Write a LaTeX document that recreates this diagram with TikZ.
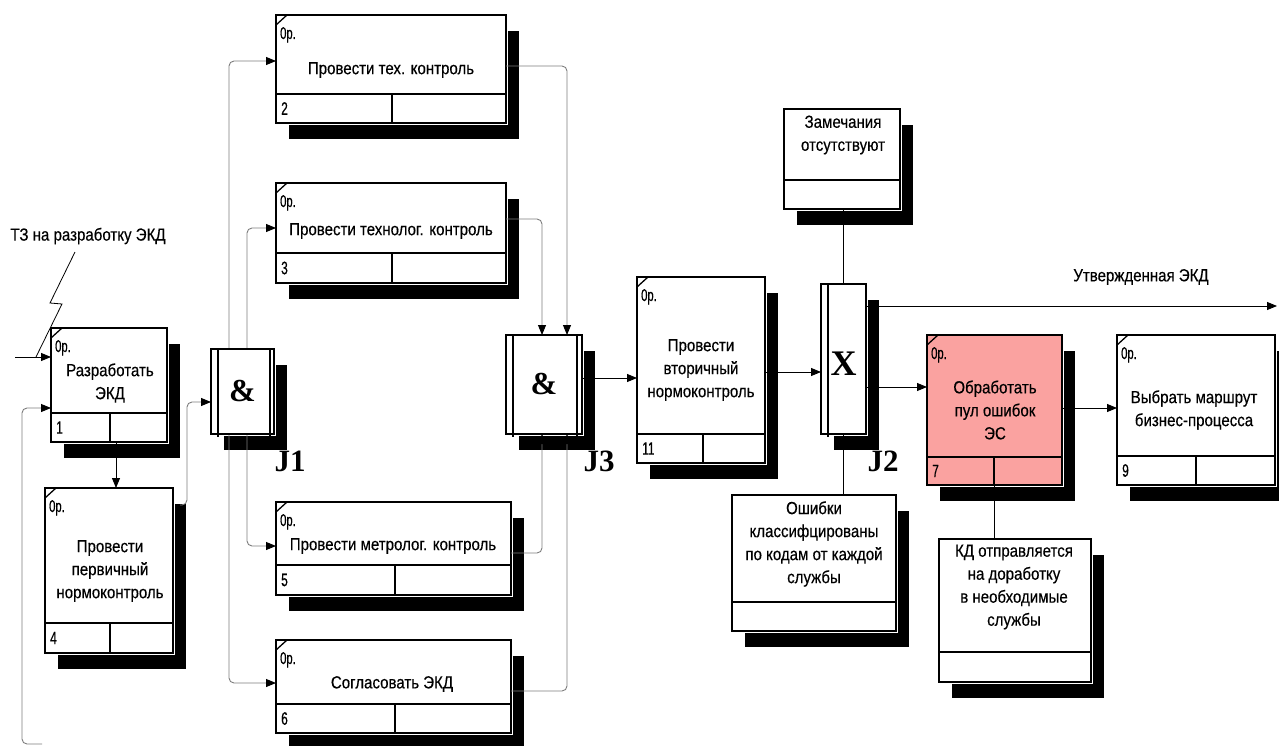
\documentclass[tikz,border=0pt]{standalone}
\usepackage{fontspec}
\setmainfont{Liberation Sans}[FakeStretch=0.86,FakeBold=0.35]
\newfontfamily\jfont{Liberation Serif}
\newfontfamily\zfont{Liberation Sans}[FakeStretch=0.66,FakeBold=0.5]
\usetikzlibrary{arrows.meta}
\definecolor{pinkf}{RGB}{250,162,160}
\definecolor{lgray}{RGB}{125,125,125}
\tikzset{
  boxst/.style={draw=black, line width=2pt, inner sep=0, outer sep=0},
  divst/.style={line width=2pt},
  splitst/.style={line width=1.6pt},
  tickst/.style={line width=1.3pt},
  zerost/.style={font=\zfont\fontsize{17}{17}\selectfont, anchor=base west, inner sep=0},
  numst/.style={font=\zfont\fontsize{18}{18}\selectfont, anchor=west, inner sep=0},
  ttl/.style={font=\fontsize{17.5}{23}\selectfont, align=center, inner sep=0},
  jsym/.style={font=\jfont\bfseries\fontsize{32}{32}\selectfont, inner sep=0},
  jlab/.style={font=\jfont\bfseries\fontsize{31}{31}\selectfont, inner sep=0},
  conn/.style={line width=0.9pt, rounded corners=5pt, -{Triangle[length=10pt,width=8pt,color=black]}},
  connG/.style={conn, draw=lgray},
  plain/.style={line width=0.9pt, draw=black},
}
% unit of work box: name, x1, y1, x2, y2, ydiv, xsplit, number, fill
\newcommand\uowbox[9]{%
  \fill[black] (#2+13,#3+16) rectangle (#4+13,#5+16);
  \fill[white] (#2-2,#3-2) rectangle (#4+2,#5+2);
  \pgfmathsetmacro\uoww{#4-#2}\pgfmathsetmacro\uowh{#5-#3}%
  \node[boxst, fill=#9, minimum width=\uoww pt, minimum height=\uowh pt, anchor=north west] (#1) at (#2,#3) {};
  \draw[divst] (#2,#6) -- (#4,#6);
  \draw[splitst] (#7,#6) -- (#7,#5);
  \draw[tickst] (#2,#3+10) -- (#2+11,#3);
  \node[zerost] (#1-op) at (#2+4,#3+24) {0р.};
  \node[numst] (#1-n) at (#2+5,{(#6+#5)/2}) {#8};
}
% referent box: name, x1, y1, x2, y2, ydiv
\newcommand\refbox[6]{%
  \fill[black] (#2+13,#3+16) rectangle (#4+13,#5+16);
  \fill[white] (#2-2,#3-2) rectangle (#4+2,#5+2);
  \pgfmathsetmacro\uoww{#4-#2}\pgfmathsetmacro\uowh{#5-#3}%
  \node[boxst, fill=white, minimum width=\uoww pt, minimum height=\uowh pt, anchor=north west] (#1) at (#2,#3) {};
  \draw[divst] (#2,#6) -- (#4,#6);
}
% junction shadow + margin: x1,y1,x2,y2
\newcommand\jshadow[4]{%
  \fill[black] (#1+13,#2+16) rectangle (#3+13,#4+16);
  \fill[white] (#1-2,#2-2) rectangle (#3+2,#4+2);
}
\begin{document}
\begin{tikzpicture}[x=1pt,y=-1pt]
\useasboundingbox (0,0) rectangle (1279,746);

% ---------- shadows and margins of junctions
\jshadow{211}{349}{274}{434}
\jshadow{506}{335}{582}{434}
\jshadow{821}{284}{866}{434}

% ---------- junction nodes
\node[boxst, fill=white, minimum width=63pt, minimum height=85pt, anchor=north west] (J1) at (211,349) {};
\node[boxst, fill=white, minimum width=76pt, minimum height=99pt, anchor=north west] (J3) at (506,335) {};
\node[boxst, fill=white, minimum width=45pt, minimum height=150pt, anchor=north west] (J2) at (821,284) {};

% ---------- boxes
\uowbox{b1}{51}{328}{167}{442}{413}{110}{1}{white}
\uowbox{b4}{45}{488}{173}{653}{623}{110}{4}{white}
\uowbox{b2}{276}{15}{506}{123}{94}{392}{2}{white}
\uowbox{b3}{276}{183}{506}{283}{253}{392}{3}{white}
\uowbox{b5}{276}{502}{511}{595}{565}{395}{5}{white}
\uowbox{b6}{276}{640}{511}{733}{704}{395}{6}{white}
\uowbox{b11}{637}{277}{765}{463}{434}{703}{11}{white}
\uowbox{b7}{927}{335}{1062}{485}{457}{994}{7}{pinkf}
\uowbox{b9}{1117}{335}{1275}{485}{456}{1196}{9}{white}
\refbox{zam}{784}{109}{900}{209}{180}
\refbox{osh}{732}{495}{896}{631}{602}
\refbox{kd}{939}{539}{1091}{682}{652}

% ---------- connectors
\coordinate (tzin) at (15,357);
\draw[conn, draw=black] (tzin) -- (tzin -| b1.west);
\coordinate (loopin) at (42,744);
\draw[connG] (loopin) -- (22,744) -- (22,408) -- (b1.west |- 0,408);
\draw[conn] ([xshift=7pt]b1.south) -- ([xshift=7pt]b4.north);
\draw[connG] (180,505) -- (187,505) -- (187,402) -- (J1.west |- 0,402);
\draw[connG] (229,349) -- (229,61) -- (b2.west |- 0,61);
\draw[connG] (247,349) -- (247,228) -- (b3.west |- 0,228);
\draw[connG] (247,434) -- (247,546) -- (b5.west |- 0,546);
\draw[connG] (229,434) -- (229,683) -- (b6.west |- 0,683);
\draw[connG] (b2.east |- 0,66) -- (567,66) -- (567,335);
\draw[connG] (b3.east |- 0,219) -- (542,219) -- (542,335);
\draw[connG] (b5.east |- 0,553) -- (542,553) -- (542,434);
\draw[connG] (b6.east |- 0,691) -- (567,691) -- (567,434);
\draw[conn] (J3.east |- 0,378) -- (b11.west |- 0,378);
\draw[conn] (b11.east |- 0,372) -- (J2.west |- 0,372);
\draw[conn] (J2.east |- 0,387) -- (b7.west |- 0,387);
\coordinate (outr) at (1277,306);
\draw[conn] (J2.east |- outr) -- (outr);
\draw[conn] (b7.east |- 0,408) -- (b9.west |- 0,408);
\draw[plain] (J2.north |- zam.south) -- (J2.north);
\draw[plain] (J2.south) -- (J2.south |- osh.north);
\draw[plain] (b7.south) -- (b7.south |- kd.north);

% ---------- junction details (over connectors)
\draw[boxst] (J1.north west) rectangle (J1.south east);
\draw[line width=1.4pt] (218,349) -- (218,437) (270,349) -- (270,437);
\draw[boxst] (J3.north west) rectangle (J3.south east);
\draw[line width=1.4pt] (513,335) -- (513,437) (577,335) -- (577,437);
\draw[boxst] (J2.north west) rectangle (J2.south east);
\draw[line width=1.4pt] (828,284) -- (828,437);
\node[jsym] (J1s) at (J1.center) {\&};
\node[jsym] (J3s) at (J3.center) {\&};
\node[jsym, font=\jfont\bfseries\fontsize{36}{36}\selectfont] (J2s) at (843.5,364) {X};
\node[jlab] (J1l) at (290,461) {J1};
\node[jlab] (J3l) at (599,461) {J3};
\node[jlab] (J2l) at (883,461) {J2};

% ---------- texts
\node[ttl] (b1t) at (110,383) {Разработать\\ЭКД};
\node[ttl] (b4t) at (110,571) {Провести\\первичный\\нормоконтроль};
\node[ttl] (b2t) at (391,70) {Провести тех. контроль};
\node[ttl] (b3t) at (391,231) {Провести технолог. контроль};
\node[ttl] (b5t) at (393,546) {Провести метролог. контроль};
\node[ttl] (b6t) at (392,684) {Согласовать ЭКД};
\node[ttl] (b11t) at (701,370) {Провести\\вторичный\\нормоконтроль};
\node[ttl] (b7t) at (995,410) {Обработать\\пул ошибок\\ЭС};
\node[ttl] (b9t) at (1194,410) {Выбрать маршрут\\бизнес-процесса};
\node[ttl] (zamt) at (843,135) {Замечания\\отсутствуют};
\node[ttl] (osht) at (814,544) {Ошибки\\классифцированы\\по кодам от каждой\\службы};
\node[ttl] (kdt) at (1014,587) {КД отправляется\\на доработку\\в необходимые\\службы};
\node[ttl] (utv) at (1141,277) {Утвержденная ЭКД};
\node[ttl] (tz) at (88,236) {ТЗ на разработку ЭКД};
\draw[line width=0.8pt] (75,252) -- (50,303) -- (62,304) -- (36,357);
\end{tikzpicture}
\end{document}
